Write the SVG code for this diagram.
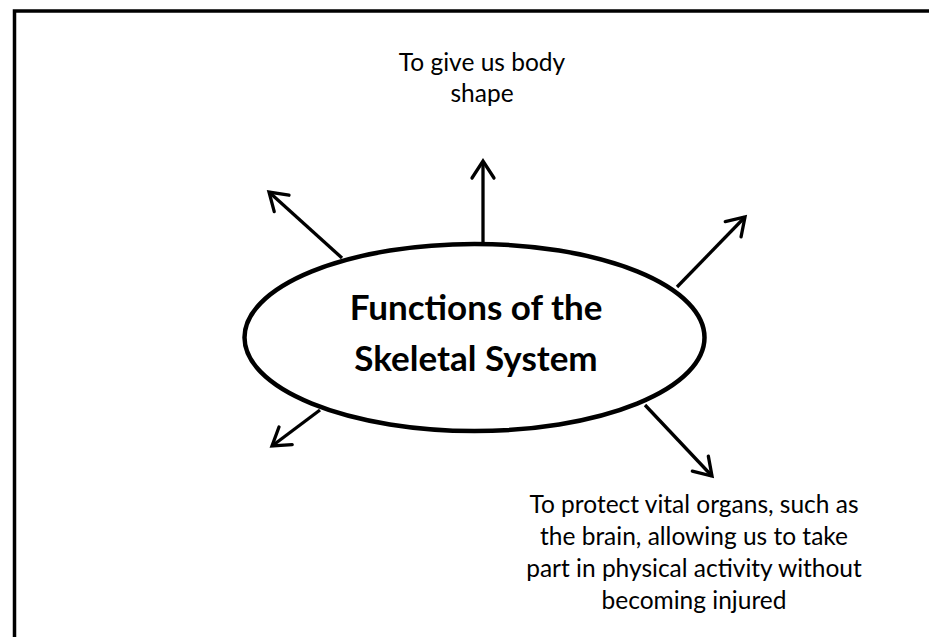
<svg xmlns="http://www.w3.org/2000/svg" width="929" height="637" viewBox="0 0 929 637">
<style>
.lbl{font-family:Lato,"Open Sans","Liberation Sans",sans-serif;font-size:24.5px;fill:#000;text-anchor:middle}
.ttl{font-family:Lato,"Open Sans","Liberation Sans",sans-serif;font-size:35px;font-weight:bold;fill:#000;text-anchor:middle}
.arr{stroke:#000;stroke-width:3.3;fill:none;marker-end:url(#head)}
</style>
<defs>
<marker id="head" markerUnits="userSpaceOnUse" viewBox="-24 -14 28 28" refX="0" refY="0" markerWidth="28" markerHeight="28" orient="auto" overflow="visible">
<path d="M-17,-11 L0,0 L-17,11" fill="none" stroke="#000" stroke-width="3.3" stroke-linejoin="miter" stroke-linecap="round"/>
</marker>
</defs>
<rect width="929" height="637" fill="#fff"/>
<rect id="frame" x="14.5" y="11" width="1000" height="1000" fill="none" stroke="#000" stroke-width="3.5"/>
<g id="connectors">
<line class="arr" x1="483" y1="243" x2="483" y2="161"/>
<line class="arr" x1="342" y1="258" x2="269" y2="192"/>
<line class="arr" x1="677" y1="287" x2="745" y2="217"/>
<line class="arr" x1="320" y1="410" x2="272" y2="446"/>
<line class="arr" x1="645" y1="405" x2="712" y2="476"/>
</g>
<g id="center">
<ellipse cx="474.5" cy="337.5" rx="230" ry="93.5" fill="#fff" stroke="#000" stroke-width="4.5"/>
<text class="ttl" x="476" y="320">Functions of the</text>
<text class="ttl" x="476" y="371">Skeletal System</text>
</g>
<g id="label-shape">
<text class="lbl" x="482" y="71">To give us body</text>
<text class="lbl" x="482" y="102">shape</text>
</g>
<g id="label-protect">
<text class="lbl" x="694" y="513">To protect vital organs, such as</text>
<text class="lbl" x="694" y="545">the brain, allowing us to take</text>
<text class="lbl" x="694" y="577">part in physical activity without</text>
<text class="lbl" x="694" y="609">becoming injured</text>
</g>
</svg>
